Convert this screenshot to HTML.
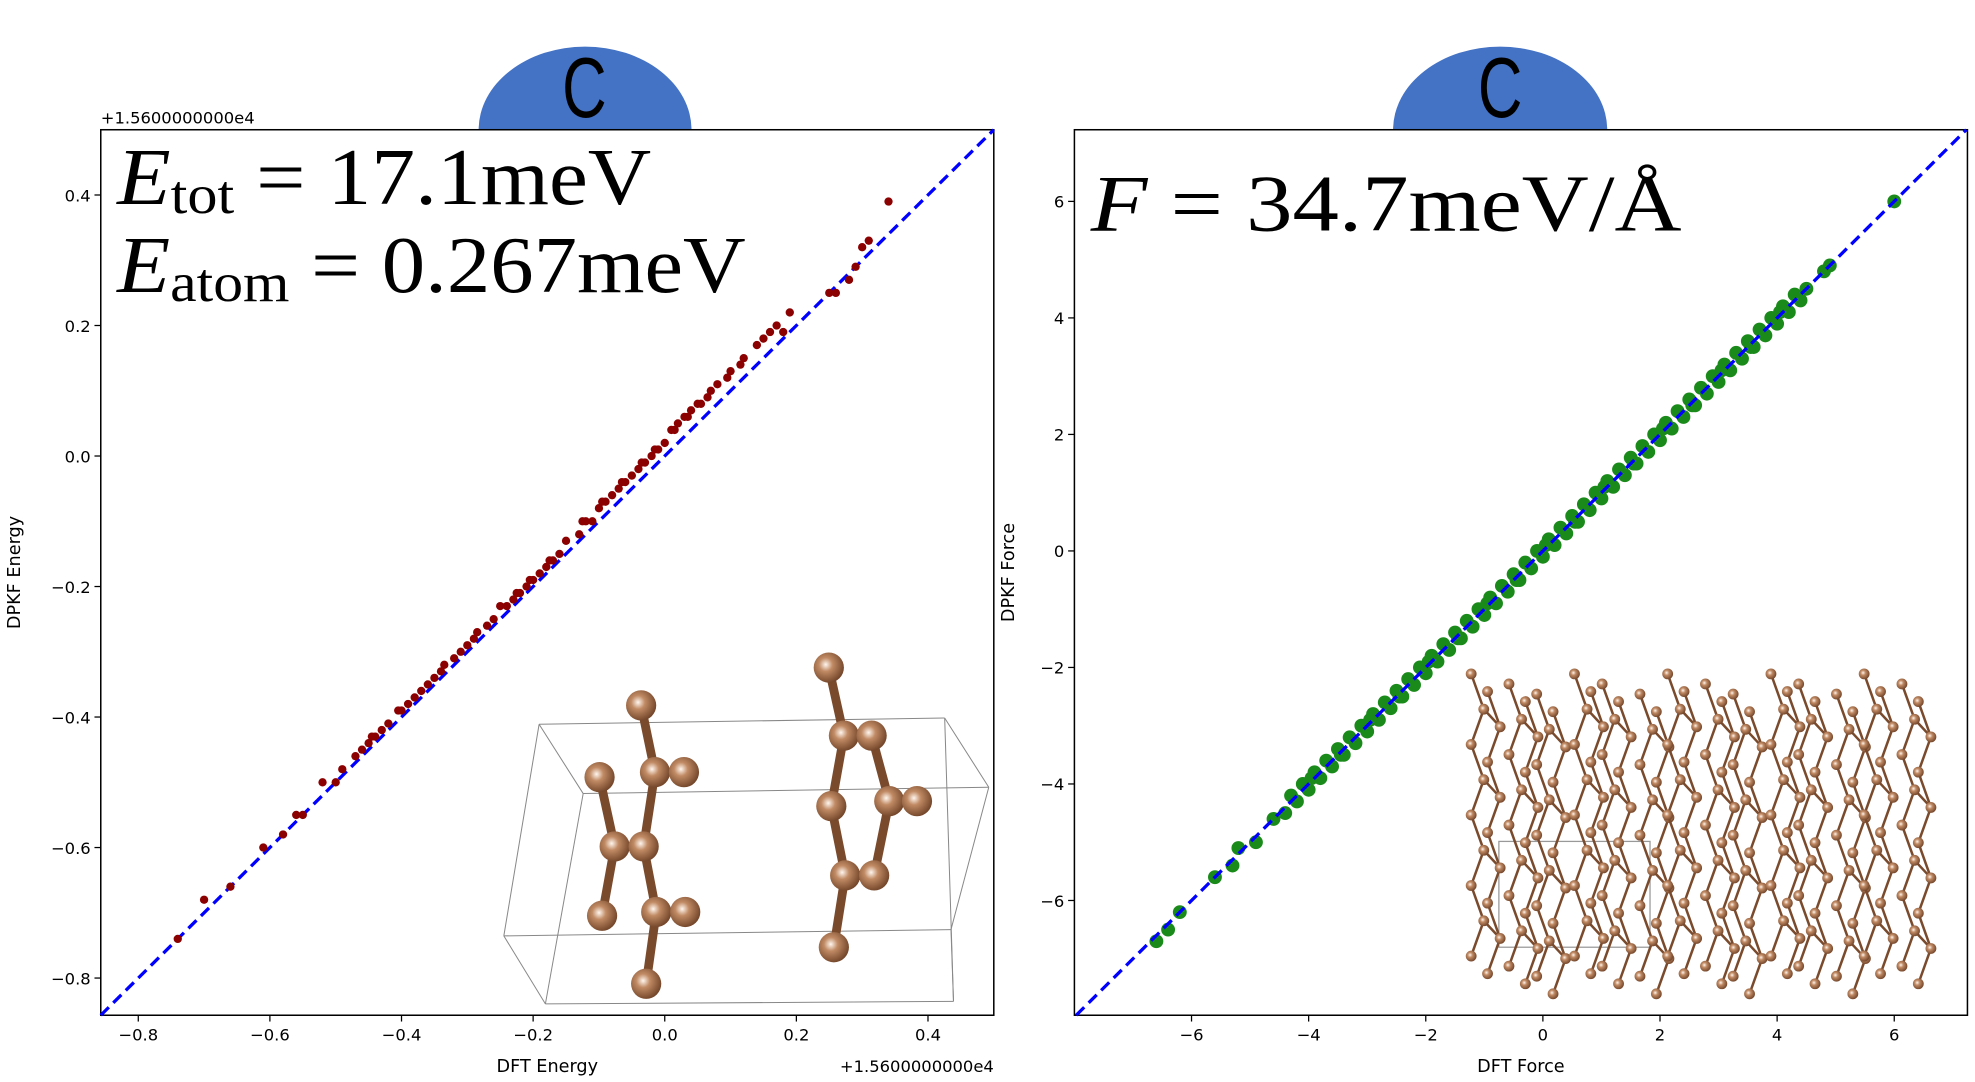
<!DOCTYPE html>
<html><head><meta charset="utf-8"><style>
html,body{margin:0;padding:0;background:#fff;}
svg{display:block;}
text{font-family:"DejaVu Sans","Liberation Sans",sans-serif;}
.m{font-family:"Liberation Serif",serif;}
</style></head><body>
<svg id="fig" width="1975" height="1082" viewBox="0 0 1568 859" preserveAspectRatio="none" xmlns="http://www.w3.org/2000/svg">
<defs>
<radialGradient id="atom" cx="0.4" cy="0.4" r="0.65">
<stop offset="0" stop-color="#fff6ee"/><stop offset="0.35" stop-color="#c08a64"/><stop offset="1" stop-color="#6e4126"/>
</radialGradient>
</defs>
<g id="badges">
<path d="M380 103 A84.5 66 0 0 1 549 103 Z" fill="#4472c4"/>
<text transform="translate(464 93) scale(0.72 1)" x="0" y="0" font-size="68" text-anchor="middle" style="font-family:'Liberation Sans',sans-serif">C</text>
<path d="M1106 103 A85 66 0 0 1 1276 103 Z" fill="#4472c4"/>
<text transform="translate(1191 93) scale(0.72 1)" x="0" y="0" font-size="68" text-anchor="middle" style="font-family:'Liberation Sans',sans-serif">C</text>
</g>
<g id="left"></g>
<g id="right"></g>
<text class="m" x="93" y="162" font-size="64" textLength="424" lengthAdjust="spacingAndGlyphs"><tspan font-style="italic">E</tspan><tspan font-size="44" dy="7">tot</tspan><tspan dy="-7"> = 17.1meV</tspan></text>
<text class="m" x="93" y="232" font-size="64" textLength="499" lengthAdjust="spacingAndGlyphs"><tspan font-style="italic">E</tspan><tspan font-size="44" dy="7">atom</tspan><tspan dy="-7"> = 0.267meV</tspan></text>
<text class="m" x="866" y="183" font-size="64" textLength="469" lengthAdjust="spacingAndGlyphs"><tspan font-style="italic">F</tspan> = 34.7meV/Å</text>
</svg>
<script>
// ---- left chart data (DFT energy vs DPKF energy, offset +1.56e4) ----
const energyDFT = [-0.74,-0.70,-0.66,-0.61,-0.58,-0.56,-0.55,-0.52,-0.50,-0.49,-0.47,-0.46,-0.45,-0.44,-0.43,-0.42,-0.40,-0.39,-0.38,-0.37,-0.36,-0.35,-0.34,-0.32,-0.31,-0.30,-0.29,-0.27,-0.26,-0.25,-0.24,-0.23,-0.22,-0.21,-0.20,-0.19,-0.18,-0.17,-0.16,-0.15,-0.13,-0.12,-0.11,-0.10,-0.09,-0.08,-0.07,-0.06,-0.05,-0.04,-0.03,-0.02,-0.01,0.00,0.01,0.02,0.03,0.04,0.05,0.07,0.08,0.10,0.12,0.14,0.15,0.16,0.17,0.18,0.19,0.25,0.26,0.28,0.29,0.30,0.31,0.34,-0.445,-0.405,-0.335,-0.285,-0.225,-0.205,-0.175,-0.125,-0.095,-0.065,-0.035,-0.015,0.015,0.035,0.055,0.065,0.095,0.115];
const energyDPKF = [-0.74,-0.68,-0.66,-0.60,-0.58,-0.55,-0.55,-0.50,-0.50,-0.48,-0.46,-0.45,-0.44,-0.43,-0.42,-0.41,-0.39,-0.38,-0.37,-0.36,-0.35,-0.34,-0.33,-0.31,-0.30,-0.29,-0.28,-0.26,-0.25,-0.23,-0.23,-0.22,-0.21,-0.20,-0.19,-0.18,-0.17,-0.16,-0.15,-0.13,-0.12,-0.10,-0.10,-0.08,-0.07,-0.06,-0.05,-0.04,-0.03,-0.02,-0.01,0.00,0.01,0.02,0.04,0.05,0.06,0.07,0.08,0.10,0.11,0.13,0.15,0.17,0.18,0.19,0.20,0.19,0.22,0.25,0.25,0.27,0.29,0.32,0.33,0.39,-0.43,-0.39,-0.32,-0.27,-0.21,-0.19,-0.16,-0.10,-0.07,-0.04,-0.01,0.01,0.04,0.06,0.08,0.09,0.12,0.14];
const energyTicks = [-0.8,-0.6,-0.4,-0.2,0.0,0.2,0.4];
const energyTickLabels = ["−0.8","−0.6","−0.4","−0.2","0.0","0.2","0.4"];
// ---- right chart data (DFT force vs DPKF force) ----
const forceDFT = [-6.6,-6.4,-6.2,-5.6,-5.3,-5.2,-4.9,-4.6,-4.4,-4.3,-4.2,-4.1,-4.0,-3.9,-3.8,-3.7,-3.6,-3.5,-3.4,-3.3,-3.2,-3.1,-3.0,-2.9,-2.8,-2.7,-2.6,-2.5,-2.4,-2.3,-2.2,-2.1,-2.0,-1.9,-1.8,-1.7,-1.6,-1.5,-1.4,-1.3,-1.2,-1.1,-1.0,-0.9,-0.8,-0.7,-0.6,-0.5,-0.4,-0.3,-0.2,-0.1,0.0,0.1,0.2,0.3,0.4,0.5,0.6,0.7,0.8,0.9,1.0,1.1,1.2,1.3,1.4,1.5,1.6,1.7,1.8,1.9,2.0,2.1,2.2,2.3,2.4,2.5,2.6,2.7,2.8,2.9,3.0,3.1,3.2,3.3,3.4,3.5,3.6,3.7,3.8,3.9,4.0,4.1,4.2,4.3,4.4,4.5,4.8,4.9,6.0,-3.95,-3.45,-2.95,-2.45,-1.95,-1.45,-0.95,-0.45,0.05,0.55,1.05,1.55,2.05,2.55,3.05,3.55,4.05];
const forceDPKF = [-6.7,-6.5,-6.2,-5.6,-5.4,-5.1,-5.0,-4.6,-4.5,-4.2,-4.3,-4.0,-4.1,-3.8,-3.9,-3.6,-3.7,-3.4,-3.5,-3.2,-3.3,-3.0,-3.1,-2.8,-2.9,-2.6,-2.7,-2.4,-2.5,-2.2,-2.3,-2.0,-2.1,-1.8,-1.9,-1.6,-1.7,-1.4,-1.5,-1.2,-1.3,-1.0,-1.1,-0.8,-0.9,-0.6,-0.7,-0.4,-0.5,-0.2,-0.3,0.0,-0.1,0.2,0.1,0.4,0.3,0.6,0.5,0.8,0.7,1.0,0.9,1.2,1.1,1.4,1.3,1.6,1.5,1.8,1.7,2.0,1.9,2.2,2.1,2.4,2.3,2.6,2.5,2.8,2.7,3.0,2.9,3.2,3.1,3.4,3.3,3.6,3.5,3.8,3.7,4.0,3.9,4.2,4.1,4.4,4.3,4.5,4.8,4.9,6.0,-3.9,-3.5,-2.9,-2.5,-1.9,-1.5,-0.9,-0.5,0.1,0.5,1.1,1.5,2.1,2.5,3.1,3.5,4.1];
const forceTicks = [-6,-4,-2,0,2,4,6];
const forceTickLabels = ["−6","−4","−2","0","2","4","6"];

const NS="http://www.w3.org/2000/svg";
function mk(tag,attrs,parent){const e=document.createElementNS(NS,tag);for(const k in attrs)e.setAttribute(k,attrs[k]);parent.appendChild(e);return e;}

function chart(g,box,dom,ticks,labels,xlab,ylab,offset,prefix,yOff){
  const sx=v=>box.x0+(v-dom[0])/(dom[1]-dom[0])*(box.x1-box.x0);
  const sy=v=>box.y1-(v-dom[2])/(dom[3]-dom[2])*(box.y1-box.y0);
  const frame=mk('rect',{x:box.x0,y:box.y0,width:box.x1-box.x0,height:box.y1-box.y0,fill:'none',stroke:'#000','stroke-width':1.2},g);
  
  
  ticks.forEach((t,i)=>{
    const X=sx(t);
    const tl=mk('line',{x1:X,x2:X,y1:box.y1,y2:box.y1+5,stroke:'#000'},g);
    
    
    const tx=mk('text',{x:X,y:box.y1+20,'font-size':13,'text-anchor':'middle'},g);tx.textContent=labels[i];
    
    
    const Y=sy(t);
    const yl=mk('line',{x1:box.x0-5,x2:box.x0,y1:Y,y2:Y,stroke:'#000'},g);
    
    
    const ty=mk('text',{x:box.x0-8,y:Y+5,'font-size':13,'text-anchor':'end'},g);ty.textContent=labels[i];
    
    
  });
  const xl=mk('text',{x:(box.x0+box.x1)/2,y:box.y1+45,'font-size':14,'text-anchor':'middle'},g);xl.textContent=xlab;
  
  
  const yc=(box.y0+box.y1)/2, yx=box.x0-yOff;
  const yt=mk('text',{x:yx,y:yc,'font-size':14,'text-anchor':'middle',transform:`rotate(-90 ${yx} ${yc})`},g);yt.textContent=ylab;
  
  
  if(offset){
    const o1=mk('text',{x:box.x0,y:box.y0-5,'font-size':13},g);o1.textContent=offset;
    
    
    const o2=mk('text',{x:box.x1,y:box.y1+45,'font-size':13,'text-anchor':'end'},g);o2.textContent=offset;
    
    
  }
  return {sx,sy};
}
function points(g,s,xs,ys,color,r,prefix){
  xs.forEach((v,i)=>{
    const c=mk('circle',{cx:s.sx(v),cy:s.sy(ys[i]),r:r,fill:color},g);
    
    
  });
}
function diag(g,s,dom,prefix){
  const lo=Math.max(dom[0],dom[2]),hi=Math.min(dom[1],dom[3]);
  const l=mk('line',{x1:s.sx(lo),y1:s.sy(lo),x2:s.sx(hi),y2:s.sy(hi),stroke:'#0000ff','stroke-width':2.6,'stroke-dasharray':'9 5'},g);
  
  
}

// Left
const gL=document.getElementById('left');
const boxL={x0:80,x1:789,y0:103,y1:806};
const domL=[-0.857,0.5,-0.857,0.5];
const sL=chart(gL,boxL,domL,energyTicks,energyTickLabels,'DFT Energy','DPKF Energy','+1.5600000000e4','energy',64);

// Left inset molecule
const mol=mk('g',{},gL);


[[428,575,750,570],[750,570,785,625],[785,625,755,738],[755,738,757,795],[757,795,433,797],[433,797,400,743],[400,743,428,575],[463,630,785,625],[400,743,755,738],[428,575,463,630],[463,630,433,797],[750,570,757,795]].forEach(b=>mk('line',{x1:b[0],y1:b[1],x2:b[2],y2:b[3],stroke:'#888','stroke-width':0.8},mol));
const atoms=[[509,560],[476,617],[520,613],[543,613],[488,672],[511,672],[478,727],[521,724],[544,724],[513,781],[658,530],[670,584],[692,584],[660,640],[706,636],[728,636],[671,695],[694,695],[662,752]];
[[0,2],[2,5],[5,7],[7,9],[1,4],[4,6],[4,5],[2,3],[7,8],[10,11],[11,13],[13,16],[16,18],[12,14],[14,17],[14,15],[11,12],[16,17]].forEach(b=>{
  mk('line',{x1:atoms[b[0]][0],y1:atoms[b[0]][1],x2:atoms[b[1]][0],y2:atoms[b[1]][1],stroke:'#7a4a2c','stroke-width':7,'stroke-linecap':'round'},mol);
});
atoms.forEach(a=>mk('circle',{cx:a[0],cy:a[1],r:12,fill:'url(#atom)'},mol));

diag(gL,sL,domL,'energy');
points(gL,sL,energyDFT,energyDPKF,'#8b0000',3.3,'energy');

// Right
const gR=document.getElementById('right');
const boxR={x0:853,x1:1562,y0:103,y1:806};
const domR=[-8.0,7.25,-7.97,7.23];
const sR=chart(gR,boxR,domR,forceTicks,forceTickLabels,'DFT Force','DPKF Force',null,'force',48);

// Right inset crystal (decorative)
const cr=mk('g',{},gR);


mk('rect',{x:1190,y:668,width:120,height:84,fill:'none',stroke:'#999','stroke-width':1},cr);
for(let c=0;c<14;c++){
  const bx=1168+c*26, top=535+(c%3)*8, n=9;
  const pts=[];
  for(let k=0;k<n;k++){pts.push([bx+(k%2?10:0)+((c%2)?4:0), top+k*28]);}
  for(let k=0;k<n-1;k++) mk('line',{x1:pts[k][0],y1:pts[k][1],x2:pts[k+1][0],y2:pts[k+1][1],stroke:'#7a4a2c','stroke-width':2},cr);
  const pts2=pts.map(p=>[p[0]+13,p[1]+14]);
  for(let k=0;k<n-1;k++) mk('line',{x1:pts2[k][0],y1:pts2[k][1],x2:pts2[k+1][0],y2:pts2[k+1][1],stroke:'#7a4a2c','stroke-width':2},cr);
  pts.forEach((p,k)=>{if(k%2)mk('line',{x1:p[0],y1:p[1],x2:pts2[k][0],y2:pts2[k][1],stroke:'#7a4a2c','stroke-width':2},cr);});
  pts.concat(pts2).forEach(p=>{if(p[1]<790)mk('circle',{cx:p[0],cy:p[1],r:4.3,fill:'url(#atom)'},cr);});
}

points(gR,sR,forceDFT,forceDPKF,'#1a8a1a',5.5,'force');
diag(gR,sR,domR,'force');
</script>
</body></html>
